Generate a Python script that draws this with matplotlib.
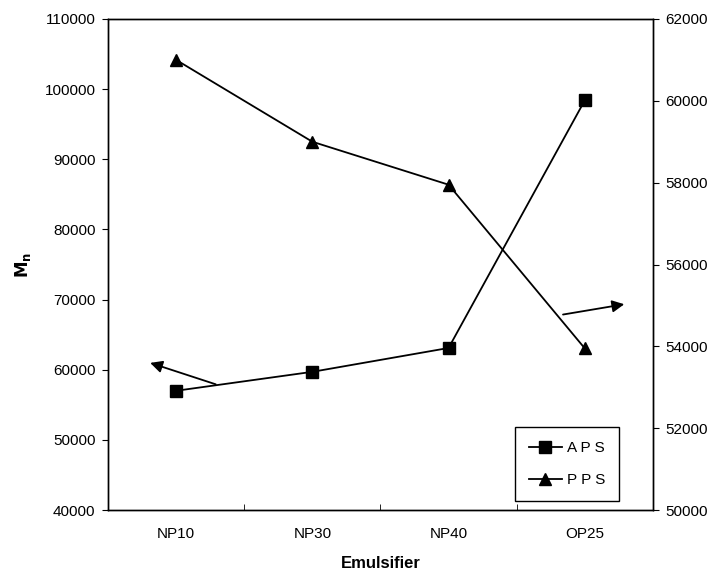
import numpy as np
import matplotlib
matplotlib.use("Agg")
import matplotlib.pyplot as plt

plt.rcParams['font.family'] = ['Liberation Sans', 'DejaVu Sans']

# DATA
categories = ["NP10", "NP30", "NP40", "OP25"]
aps_mn = [57000, 59700, 63100, 98400]   # left axis
pps_mn = [61000, 59000, 57950, 53950]   # right axis

x = np.arange(len(categories))

fig = plt.figure(figsize=(7.12, 5.75), dpi=100)
ax = fig.add_axes([0.1517, 0.113, 0.7653, 0.854])
ax2 = ax.twinx()

ax.plot(x, aps_mn, color="black", linewidth=1.3, marker="s", markersize=8, label="APS")
ax2.plot(x, pps_mn, color="black", linewidth=1.3, marker="^", markersize=8, label="PPS")

ax.set_xlim(-0.5, len(categories) - 0.5)
ax.set_ylim(40000, 110000)
ax2.set_ylim(50000, 62000)
ax.set_yticks(np.arange(40000, 110001, 10000))
ax2.set_yticks(np.arange(50000, 62001, 2000))

# category labels centred, tick marks on the boundaries
ax.set_xticks(x)
ax.set_xticklabels(categories)
ax.tick_params(axis="x", which="major", length=0, pad=12)
ax.set_xticks(x[:-1] + 0.5, minor=True)
ax.tick_params(axis="x", which="minor", length=4, direction="in")

for a in (ax, ax2):
    a.tick_params(axis="y", direction="out", length=4, labelsize=11)
    for s in a.spines.values():
        s.set_linewidth(1.0)
ax.tick_params(axis="x", labelsize=11)
ax.tick_params(axis="y", pad=5)
ax2.tick_params(axis="y", pad=5)

# arrows pointing to the axis each series belongs to
arrow = dict(arrowstyle="-|>", color="black", lw=1.3, mutation_scale=18)
ax.annotate("", xy=(-0.21, 61100), xytext=(0.31, 57800), arrowprops=arrow)
ax.annotate("", xy=(3.31, 69400), xytext=(2.82, 67800), arrowprops=arrow)

ax.set_xlabel("Emulsifier", fontweight="bold", fontsize=12, labelpad=11)
ax.set_ylabel(r"$\mathbf{M_n}$", fontsize=12, labelpad=8)

h1, l1 = ax.get_legend_handles_labels()
h2, l2 = ax2.get_legend_handles_labels()
leg = ax2.legend(h1 + h2, ["A P S", "P P S"], loc="lower right",
                 bbox_to_anchor=(0.9376, 0.018), borderaxespad=0,
                 fancybox=False, framealpha=1,
                 edgecolor="black", fontsize=11, handlelength=2.2,
                 labelspacing=1.2, borderpad=0.9, handletextpad=0.3)
leg.get_frame().set_linewidth(1.0)

fig.savefig("out.png", dpi=100)
